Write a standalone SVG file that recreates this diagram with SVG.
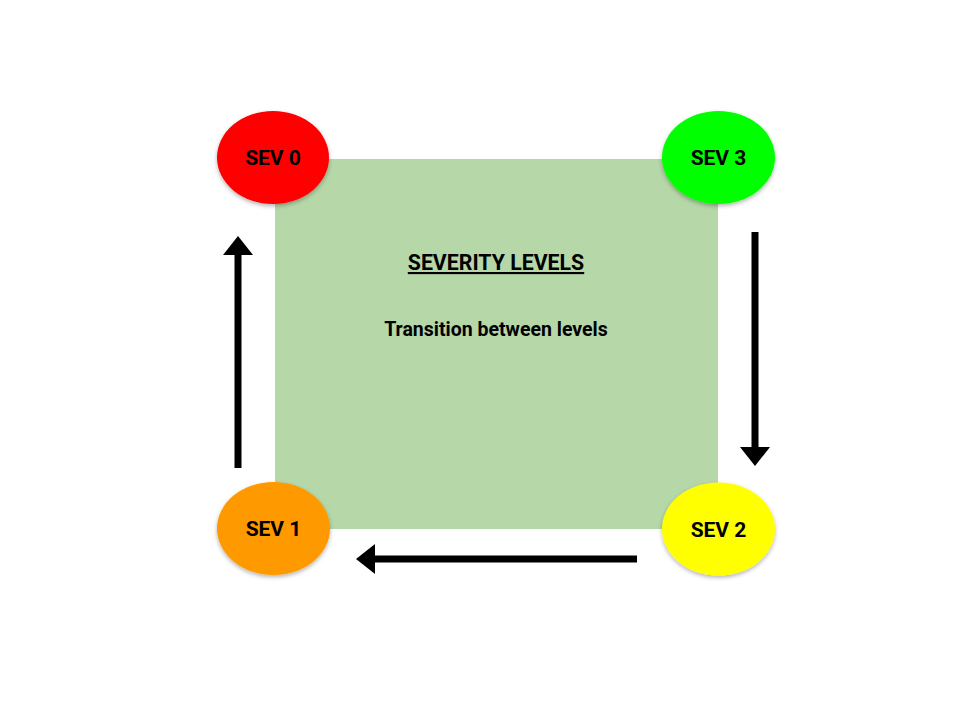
<svg xmlns="http://www.w3.org/2000/svg" width="960" height="720" viewBox="0 0 960 720">
  <style>
    .lbl { font-family: Roboto, "Liberation Sans", sans-serif; font-weight: bold; fill: #000; text-anchor: middle; }
    .node-label { font-size: 21px; }
    .conn { stroke: #000; stroke-width: 7; fill: none; marker-end: url(#head); }
  </style>
  <defs>
    <filter id="shadow" x="-20%" y="-20%" width="140%" height="150%">
      <feDropShadow dx="0" dy="2" stdDeviation="2" flood-color="#000" flood-opacity="0.3"/>
    </filter>
    <marker id="head" markerUnits="userSpaceOnUse" markerWidth="20" markerHeight="32" refX="1" refY="15" orient="auto">
      <polygon points="0,0 19,15 0,30" fill="#000"/>
    </marker>
  </defs>

  <rect width="960" height="720" fill="#fff"/>

  <!-- central panel -->
  <g id="panel">
    <rect x="275" y="159" width="443" height="370" fill="#b6d7a8"/>
    <text class="lbl" x="496" y="270" font-size="21.3" text-decoration="underline">SEVERITY LEVELS</text>
    <text class="lbl" x="496" y="336" font-size="19.5">Transition between levels</text>
  </g>

  <!-- connectors -->
  <g id="connectors">
    <line class="conn" x1="238" y1="468" x2="238" y2="254"/>
    <line class="conn" x1="755" y1="232" x2="755" y2="448"/>
    <line class="conn" x1="637" y1="559" x2="374" y2="559"/>
  </g>

  <g id="sev0">
    <ellipse cx="273" cy="157.5" rx="56" ry="46.5" fill="#ff0000" filter="url(#shadow)"/>
    <text class="lbl node-label" x="273" y="165">SEV 0</text>
  </g>
  <g id="sev3">
    <ellipse cx="718.5" cy="157.5" rx="56.5" ry="46.5" fill="#00ff00" filter="url(#shadow)"/>
    <text class="lbl node-label" x="718.5" y="165">SEV 3</text>
  </g>
  <g id="sev1">
    <ellipse cx="273.5" cy="528.5" rx="56.5" ry="46.5" fill="#ff9900" filter="url(#shadow)"/>
    <text class="lbl node-label" x="273.5" y="536">SEV 1</text>
  </g>
  <g id="sev2">
    <ellipse cx="718.5" cy="529" rx="56.5" ry="46.5" fill="#ffff00" filter="url(#shadow)"/>
    <text class="lbl node-label" x="718.5" y="536.5">SEV 2</text>
  </g>
</svg>
